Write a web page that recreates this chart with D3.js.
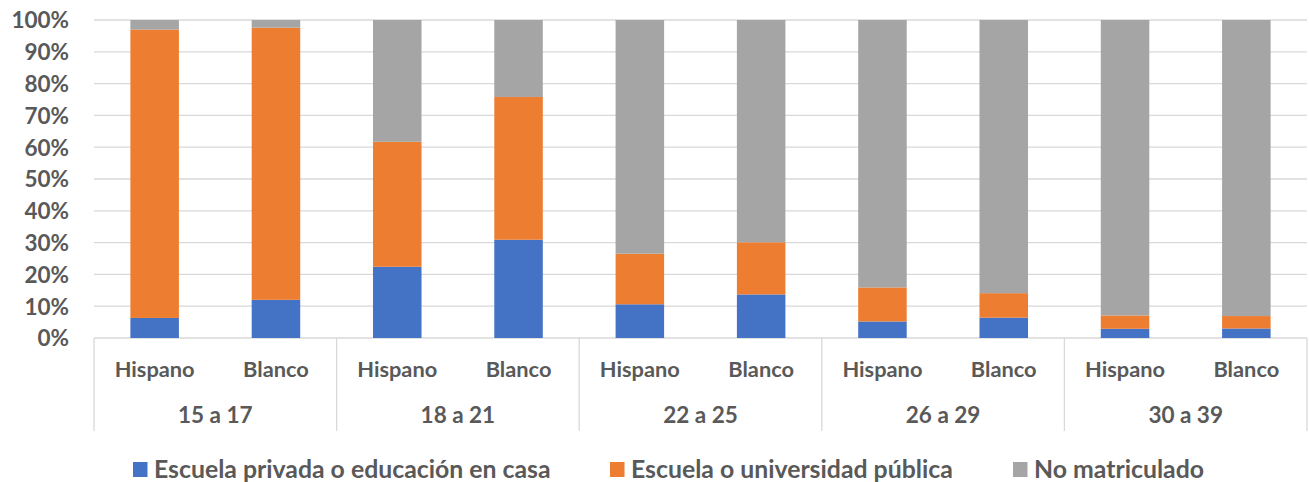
<!DOCTYPE html>
<html><head><meta charset="utf-8">
<script src="https://cdn.jsdelivr.net/npm/d3@7"></script>
<style>html,body{margin:0;padding:0;background:#fff;}svg{display:block;}</style>
</head><body>
<svg id="chart" width="1309" height="482"></svg>
<script>
const groups = ["15 a 17", "18 a 21", "22 a 25", "26 a 29", "30 a 39"];
const subgroups = ["Hispano", "Blanco"];
const seriesNames = ["Escuela privada o educación en casa", "Escuela o universidad pública", "No matriculado"];
const privada = [6.3, 12.0, 22.4, 30.9, 10.6, 13.7, 5.2, 6.4, 2.9, 3.0];
const publica = [90.7, 85.6, 39.3, 44.9, 15.9, 16.4, 10.7, 7.7, 4.2, 3.9];
const noMatric = [3.0, 2.4, 38.3, 24.2, 73.5, 69.9, 84.1, 85.9, 92.9, 93.1];
const yTicks = [0, 10, 20, 30, 40, 50, 60, 70, 80, 90, 100];
const colors = ["#4472c4", "#ed7d31", "#a5a5a5"];

(function () {
const svg = d3.select("#chart");
const pl = 94, pr = 1307, pt = 20, pb = 338;
const font = "Lato, 'Open Sans', sans-serif";
const txt = "#595959";

const keys = [];
groups.forEach(g => subgroups.forEach(s => keys.push(g + "|" + s)));
const rows = keys.map((k, i) => ({key: k, privada: privada[i], publica: publica[i], noMatric: noMatric[i]}));

const x = d3.scaleBand().domain(keys).range([pl, pr]).paddingInner(0.6).paddingOuter(0.3);
const y = d3.scaleLinear().domain([0, 100]).range([pb, pt]);

svg.append("g").selectAll("line").data(yTicks).join("line")
  .attr("x1", pl).attr("x2", pr)
  .attr("y1", d => y(d)).attr("y2", d => y(d))
  .attr("stroke", "#d9d9d9").attr("stroke-width", 1.3);

const yAxis = d3.axisLeft(y).tickValues(yTicks).tickFormat(d => d + "%").tickSize(0).tickPadding(0);
const ya = svg.append("g").attr("transform", `translate(69,0)`).call(yAxis);
ya.select(".domain").remove();
ya.selectAll("text").attr("font-family", font).attr("font-weight", "bold")
  .attr("font-size", 22.5).attr("fill", txt).attr("dy", "0.35em");

const stack = d3.stack().keys(["privada", "publica", "noMatric"]);
const stacked = stack(rows);
svg.append("g").selectAll("g").data(stacked).join("g")
  .attr("fill", (d, i) => colors[i])
  .selectAll("rect").data(d => d).join("rect")
  .attr("x", d => x(d.data.key))
  .attr("width", x.bandwidth())
  .attr("y", d => y(d[1]))
  .attr("height", d => y(d[0]) - y(d[1]));

const step = x.step();
const sepX = d3.range(groups.length + 1).map(i => pl + i * step * 2);
svg.append("g").selectAll("line").data(sepX).join("line")
  .attr("x1", d => d).attr("x2", d => d)
  .attr("y1", pb).attr("y2", 431)
  .attr("stroke", "#d9d9d9").attr("stroke-width", 1.3);

svg.append("g").selectAll("text").data(keys).join("text")
  .attr("x", d => x(d) + x.bandwidth() / 2)
  .attr("y", 369).attr("dy", "0.35em")
  .attr("text-anchor", "middle")
  .attr("font-family", font).attr("font-weight", "bold").attr("font-size", 21.8)
  .attr("fill", txt).text(d => d.split("|")[1]);

svg.append("g").selectAll("text").data(groups).join("text")
  .attr("x", d => (x(d + "|Hispano") + x(d + "|Blanco") + x.bandwidth()) / 2)
  .attr("y", 415).attr("dy", "0.35em")
  .attr("text-anchor", "middle")
  .attr("font-family", font).attr("font-weight", "bold").attr("font-size", 22.5)
  .attr("fill", txt).text(d => d);

const legendX = [133, 610, 1013];
const lg = svg.append("g").selectAll("g").data(seriesNames).join("g")
  .attr("transform", (d, i) => `translate(${legendX[i]},469.5)`);
lg.append("rect").attr("x", 0).attr("y", -7.5).attr("width", 14.5).attr("height", 15)
  .attr("fill", (d, i) => colors[i]);
lg.append("text").attr("x", 21).attr("dy", "0.35em")
  .attr("font-family", font).attr("font-weight", "bold").attr("font-size", 24.8)
  .attr("fill", txt).text(d => d);
})();
</script>
</body></html>
